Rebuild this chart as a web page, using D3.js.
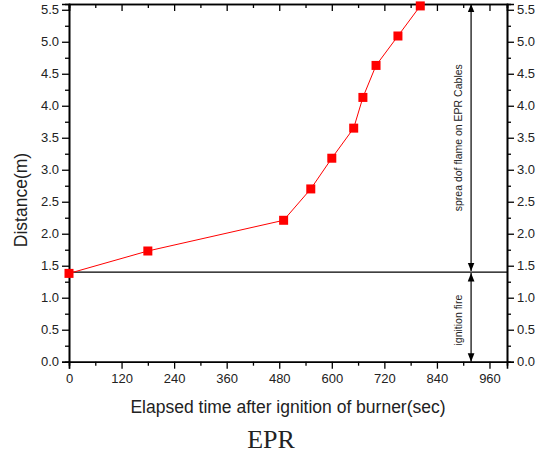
<!DOCTYPE html>
<html>
<head>
<meta charset="utf-8">
<script src="https://cdn.jsdelivr.net/npm/d3@7"></script>
<style>
  body { margin: 0; background: #fff; }
  text { font-family: "Liberation Sans", Arial, sans-serif; fill: #222; }
</style>
</head>
<body>
<div id="chart"></div>
<script>
// data
const times     = [0, 180, 490, 552, 600, 650, 671, 701, 751, 802];
const distances = [1.38, 1.73, 2.21, 2.70, 3.18, 3.65, 4.13, 4.63, 5.09, 5.56];
const xTicks = [0, 120, 240, 360, 480, 600, 720, 840, 960];
const yTicks = [0, 0.5, 1, 1.5, 2, 2.5, 3, 3.5, 4, 4.5, 5, 5.5];
const ignitionLevel = 1.4;
const arrowTime = 918;
const xLabel = 'Elapsed time after ignition of burner(sec)';
const yLabel = 'Distance(m)';
const caption = 'EPR';
const spreadText = 'sprea dof flame on EPR Cables';
const ignitionText = 'ignition fire';

const W = 543, H = 462;
const m = { t: 4, r: 36, b: 100, l: 69 };
const iw = 507 - m.l, ih = 361.7 - m.t;

const svg = d3.select('#chart').append('svg')
  .attr('width', W).attr('height', H);

const defs = svg.append('defs');
defs.append('marker')
  .attr('id', 'ah').attr('viewBox', '0 0 10 10')
  .attr('refX', 10).attr('refY', 5)
  .attr('markerWidth', 7).attr('markerHeight', 7)
  .attr('orient', 'auto-start-reverse')
  .append('path').attr('d', 'M0,1 L10,5 L0,9 Z').attr('fill', '#000');

const g = svg.append('g').attr('transform', `translate(${m.l},${m.t})`);

const x = d3.scaleLinear().domain([0, 1000]).range([0, iw]);
const y = d3.scaleLinear().domain([0, 5.59]).range([ih, 0]);

const xMinor = d3.range(60, 1000, 120);
const yMinor = d3.range(0.25, 5.59, 0.5);

function styleAxis(sel) {
  sel.select('.domain').attr('stroke', '#000').attr('stroke-width', 1.6);
  sel.selectAll('.tick line').attr('stroke', '#000').attr('stroke-width', 1.3);
  sel.selectAll('.tick text').style('font-size', '13px').attr('fill', '#222');
}

// bottom
g.append('g').attr('transform', `translate(0,${ih})`)
  .call(d3.axisBottom(x).tickValues(xTicks).tickSize(7).tickPadding(5))
  .call(styleAxis);
g.append('g').attr('transform', `translate(0,${ih})`)
  .call(d3.axisBottom(x).tickValues(xMinor).tickSize(4).tickFormat(''))
  .call(styleAxis);
// top (inward)
g.append('g')
  .call(d3.axisBottom(x).tickValues(xTicks).tickSize(7).tickFormat(''))
  .call(styleAxis);
g.append('g')
  .call(d3.axisBottom(x).tickValues(xMinor).tickSize(4).tickFormat(''))
  .call(styleAxis);
// left
g.append('g')
  .call(d3.axisLeft(y).tickValues(yTicks).tickSize(7).tickPadding(3).tickFormat(d3.format('.1f')))
  .call(styleAxis);
g.append('g')
  .call(d3.axisLeft(y).tickValues(yMinor).tickSize(4).tickFormat(''))
  .call(styleAxis);
// right
g.append('g').attr('transform', `translate(${iw},0)`)
  .call(d3.axisRight(y).tickValues(yTicks).tickSize(7).tickPadding(3).tickFormat(d3.format('.1f')))
  .call(styleAxis);
g.append('g').attr('transform', `translate(${iw},0)`)
  .call(d3.axisRight(y).tickValues(yMinor).tickSize(4).tickFormat(''))
  .call(styleAxis);

// horizontal ignition line
g.append('line')
  .attr('x1', 0).attr('x2', iw)
  .attr('y1', y(ignitionLevel)).attr('y2', y(ignitionLevel))
  .attr('stroke', '#000').attr('stroke-width', 1.4);

// arrows
g.append('line')
  .attr('x1', x(arrowTime)).attr('x2', x(arrowTime))
  .attr('y1', y(ignitionLevel) - 1).attr('y2', y(5.59))
  .attr('stroke', '#000').attr('stroke-width', 1.2)
  .attr('marker-start', 'url(#ah)').attr('marker-end', 'url(#ah)');
g.append('line')
  .attr('x1', x(arrowTime)).attr('x2', x(arrowTime))
  .attr('y1', y(ignitionLevel) + 1).attr('y2', y(0))
  .attr('stroke', '#000').attr('stroke-width', 1.2)
  .attr('marker-start', 'url(#ah)').attr('marker-end', 'url(#ah)');

g.append('text')
  .attr('transform', `translate(${x(arrowTime) - 9},${y(3.5)}) rotate(-90)`)
  .attr('text-anchor', 'middle')
  .style('font-size', '10.5px')
  .text(spreadText);
g.append('text')
  .attr('transform', `translate(${x(arrowTime) - 9},${y(0.65)}) rotate(-90)`)
  .attr('text-anchor', 'middle')
  .style('font-size', '10.5px')
  .text(ignitionText);

// data line + markers
const pts = times.map((t, i) => ({ t, d: distances[i] }));
g.append('path').datum(pts)
  .attr('fill', 'none').attr('stroke', '#ff0000').attr('stroke-width', 1)
  .attr('d', d3.line().x(d => x(d.t)).y(d => y(d.d)));
g.selectAll('rect.pt').data(pts).join('rect')
  .attr('class', 'pt')
  .attr('x', d => x(d.t) - 4.5).attr('y', d => y(d.d) - 4.5)
  .attr('width', 9).attr('height', 9)
  .attr('fill', '#ff0000');

// labels
svg.append('text')
  .attr('transform', 'translate(27,200) rotate(-90)')
  .attr('text-anchor', 'middle')
  .style('font-size', '17.5px')
  .text(yLabel);
svg.append('text')
  .attr('x', 288).attr('y', 413)
  .attr('text-anchor', 'middle')
  .style('font-size', '17.5px')
  .text(xLabel);
svg.append('text')
  .attr('x', 271).attr('y', 448)
  .attr('text-anchor', 'middle')
  .style('font-family', '"Liberation Serif", "Times New Roman", serif')
  .style('font-size', '26px')
  .attr('fill', '#000')
  .text(caption);
</script>
</body>
</html>
